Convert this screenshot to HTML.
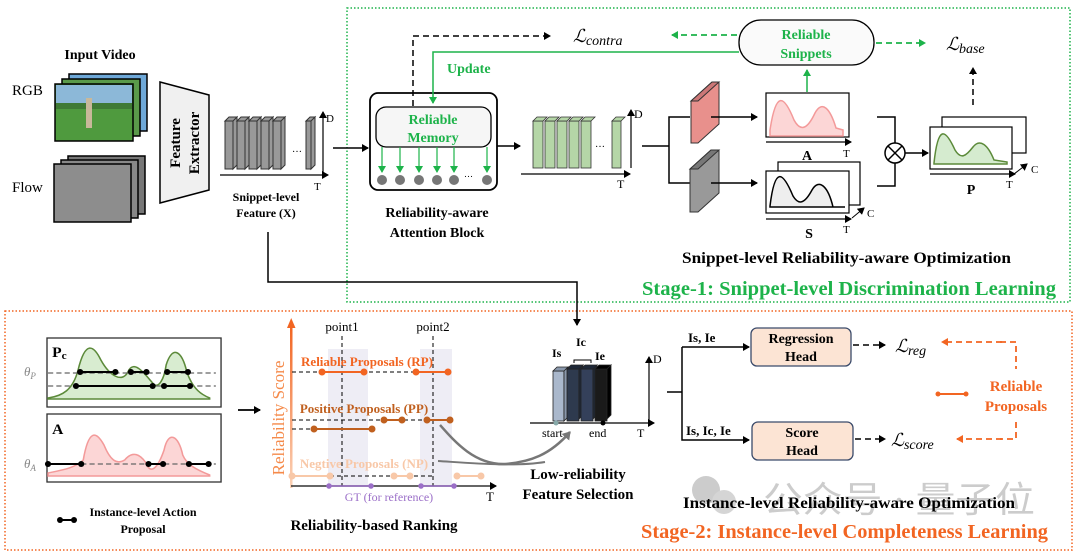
<!DOCTYPE html>
<html><head><meta charset="utf-8"><style>
body{margin:0;background:#fff}
svg{display:block}
text{font-family:"Liberation Serif",serif}
.b{font-weight:bold}
</style></head><body>
<svg width="1080" height="557" viewBox="0 0 1080 557" xmlns="http://www.w3.org/2000/svg">
<defs>
<marker id="ak" markerWidth="8" markerHeight="8" refX="6" refY="4" orient="auto" markerUnits="userSpaceOnUse"><path d="M0,0 L7,4 L0,8z" fill="#000"/></marker>
<marker id="ag" markerWidth="8" markerHeight="8" refX="6" refY="4" orient="auto" markerUnits="userSpaceOnUse"><path d="M0,0 L7,4 L0,8z" fill="#1db34a"/></marker>
<marker id="ao" markerWidth="8" markerHeight="8" refX="6" refY="4" orient="auto" markerUnits="userSpaceOnUse"><path d="M0,0 L7,4 L0,8z" fill="#f26522"/></marker>
<marker id="agr" markerWidth="10" markerHeight="10" refX="7" refY="5" orient="auto" markerUnits="userSpaceOnUse"><path d="M0,0 L8,5 L0,10z" fill="#777"/></marker>
<linearGradient id="og" x1="0" y1="1" x2="0" y2="0"><stop offset="0" stop-color="#fbd3b8"/><stop offset="1" stop-color="#f26522"/></linearGradient>
</defs>

<rect x="347" y="8" width="723" height="294" fill="none" stroke="#1db34a" stroke-width="1.5" stroke-dasharray="1.5 2"/>
<rect x="5" y="311" width="1067" height="239" fill="none" stroke="#f26522" stroke-width="1.5" stroke-dasharray="1.5 2"/>

<text x="100" y="59" class="b" font-size="14" text-anchor="middle">Input Video</text>
<text x="12" y="95" font-size="15">RGB</text>
<text x="12" y="192" font-size="15">Flow</text>
<rect x="69" y="74" width="78" height="57" fill="#6ea8d8" stroke="#000" stroke-width="1.5"/>
<rect x="62" y="79" width="78" height="57" fill="#5a9a4a" stroke="#000" stroke-width="1.5"/>
<rect x="55" y="84" width="78" height="57" fill="#4f9a3e" stroke="#000" stroke-width="1.5"/>
<rect x="56" y="85" width="76" height="18" fill="#8cb8d8"/>
<rect x="56" y="103" width="76" height="6" fill="#3f7a35"/>
<rect x="86" y="98" width="6" height="30" fill="#c8b89a"/>
<rect x="68" y="156" width="77" height="58" fill="#777" stroke="#000" stroke-width="1.5"/>
<rect x="61" y="160" width="77" height="58" fill="#888" stroke="#000" stroke-width="1.5"/>
<rect x="54" y="164" width="77" height="58" fill="#8d8d8d" stroke="#000" stroke-width="1.5"/>
<polygon points="160,82 209,95 209,190 160,203" fill="#f0f0f0" stroke="#000" stroke-width="1.5"/>
<text transform="translate(180,143) rotate(-90)" class="b" font-size="15" text-anchor="middle">Feature</text>
<text transform="translate(199,143) rotate(-90)" class="b" font-size="15" text-anchor="middle">Extractor</text>

<g fill="#999" stroke="#333" stroke-width="1" transform="translate(0,24)">
<path d="M225,97 l4,-4 h8 l-4,4z M237,93 v48 l-4,4 v-48z"/><rect x="225" y="97" width="8" height="48"/>
<path d="M237,97 l4,-4 h8 l-4,4z M249,93 v48 l-4,4 v-48z"/><rect x="237" y="97" width="8" height="48"/>
<path d="M249,97 l4,-4 h8 l-4,4z M261,93 v48 l-4,4 v-48z"/><rect x="249" y="97" width="8" height="48"/>
<path d="M261,97 l4,-4 h8 l-4,4z M273,93 v48 l-4,4 v-48z"/><rect x="261" y="97" width="8" height="48"/>
<path d="M273,97 l4,-4 h8 l-4,4z M285,93 v48 l-4,4 v-48z"/><rect x="273" y="97" width="8" height="48"/>
<path d="M306,97 l4,-4 h5 l-4,4z M315,93 v48 l-4,4 v-48z"/><rect x="306" y="97" width="5" height="48"/>
</g>
<text x="292" y="152" font-size="10">…</text>
<line x1="323" y1="172" x2="323" y2="112" stroke="#000" stroke-width="1.2" marker-end="url(#ak)"/>
<text x="326" y="122" font-size="11">D</text>
<line x1="220" y1="175" x2="328" y2="175" stroke="#000" stroke-width="1.2" marker-end="url(#ak)"/>
<text x="314" y="190" font-size="11">T</text>
<text x="266" y="201" class="b" font-size="12" text-anchor="middle">Snippet-level</text>
<text x="266" y="217" class="b" font-size="12" text-anchor="middle">Feature (X)</text>
<line x1="333" y1="148" x2="368" y2="148" stroke="#000" stroke-width="1.5" marker-end="url(#ak)"/>

<polyline points="268,232 268,282 577,282 577,325" fill="none" stroke="#000" stroke-width="1.5" marker-end="url(#ak)"/>

<rect x="370" y="93" width="127" height="97" rx="8" fill="#fff" stroke="#000" stroke-width="1.8"/>
<rect x="376" y="107" width="115" height="40" rx="10" fill="#f6f6f6" stroke="#000" stroke-width="1.3"/>
<text x="433" y="124" font-size="14" fill="#1db34a" text-anchor="middle" class="b">Reliable</text>
<text x="433" y="142" font-size="14" fill="#1db34a" text-anchor="middle" class="b">Memory</text>
<g stroke="#1db34a" stroke-width="1.2" marker-end="url(#ag)">
<line x1="382" y1="147" x2="382" y2="172"/><line x1="400" y1="147" x2="400" y2="172"/><line x1="419" y1="147" x2="419" y2="172"/><line x1="437" y1="147" x2="437" y2="172"/><line x1="454" y1="147" x2="454" y2="172"/><line x1="487" y1="147" x2="487" y2="172"/>
</g>
<g fill="#777"><circle cx="382" cy="180" r="5"/><circle cx="400" cy="180" r="5"/><circle cx="419" cy="180" r="5"/><circle cx="437" cy="180" r="5"/><circle cx="454" cy="180" r="5"/><circle cx="487" cy="180" r="5"/></g>
<text x="464" y="177" font-size="9">…</text>
<text x="437" y="217" class="b" font-size="14" text-anchor="middle">Reliability-aware</text>
<text x="437" y="237" class="b" font-size="14" text-anchor="middle">Attention Block</text>

<polyline points="413,106 413,36 550,36" fill="none" stroke="#000" stroke-width="1.5" stroke-dasharray="6 4" marker-end="url(#ak)"/>
<text x="573" y="42" font-size="18" font-style="italic">ℒ<tspan font-size="14" dy="3">contra</tspan></text>
<polyline points="739,52 433,52 433,103" fill="none" stroke="#1db34a" stroke-width="1.5" marker-end="url(#ag)"/>
<text x="447" y="73" font-size="14" fill="#1db34a" class="b">Update</text>
<rect x="739" y="20" width="135" height="45" rx="22" fill="#fafafa" stroke="#000" stroke-width="1.3"/>
<text x="806" y="39" font-size="14" fill="#1db34a" text-anchor="middle" class="b">Reliable</text>
<text x="806" y="58" font-size="14" fill="#1db34a" text-anchor="middle" class="b">Snippets</text>
<line x1="737" y1="35" x2="672" y2="35" stroke="#1db34a" stroke-width="1.8" stroke-dasharray="6 4" marker-end="url(#ag)"/>
<line x1="876" y1="43" x2="925" y2="43" stroke="#1db34a" stroke-width="1.8" stroke-dasharray="6 4" marker-end="url(#ag)"/>
<text x="946" y="50" font-size="18" font-style="italic">ℒ<tspan font-size="14" dy="3">base</tspan></text>

<line x1="497" y1="146" x2="520" y2="146" stroke="#000" stroke-width="1.5" marker-end="url(#ak)"/>
<g fill="#b5d6a7" stroke="#333" stroke-width="0.8">
<rect x="533" y="121" width="10" height="47"/><rect x="545" y="121" width="10" height="47"/><rect x="557" y="121" width="10" height="47"/><rect x="569" y="121" width="10" height="47"/><rect x="581" y="121" width="10" height="47"/><rect x="612" y="121" width="9" height="47"/>
<path d="M533,121 l4,-4 h10 l-4,4z M545,121 l4,-4 h10 l-4,4z M557,121 l4,-4 h10 l-4,4z M569,121 l4,-4 h10 l-4,4z M581,121 l4,-4 h10 l-4,4z M612,121 l4,-4 h9 l-4,4z"/>
</g>
<text x="595" y="147" font-size="10">…</text>
<line x1="631" y1="168" x2="631" y2="110" stroke="#000" stroke-width="1.2" marker-end="url(#ak)"/>
<text x="634" y="118" font-size="12">D</text>
<line x1="521" y1="174" x2="630" y2="174" stroke="#000" stroke-width="1.2" marker-end="url(#ak)"/>
<text x="617" y="188" font-size="12">T</text>

<polyline points="642,146 669,146" fill="none" stroke="#000" stroke-width="1.5"/>
<polyline points="690,117 669,117 669,183 690,183" fill="none" stroke="#000" stroke-width="1.5"/>
<polygon points="691,101 712,82 719,82 719,124 698,143 691,143" fill="#e8908c" stroke="#333"/>
<polygon points="691,101 712,82 719,82 698,101" fill="#c77" stroke="#333"/>
<polygon points="690,169 711,150 719,150 719,193 698,212 690,212" fill="#999" stroke="#333"/>
<polygon points="690,169 711,150 719,150 698,169" fill="#777" stroke="#333"/>
<line x1="711" y1="117" x2="757" y2="117" stroke="#000" stroke-width="1.5" marker-end="url(#ak)"/>
<line x1="711" y1="183" x2="757" y2="183" stroke="#000" stroke-width="1.5" marker-end="url(#ak)"/>

<rect x="766" y="93" width="83" height="44" fill="#fff" stroke="#000" stroke-width="1.2"/>
<path d="M770,130 C776,90 784,95 794,120 C801,133 808,128 815,113 C822,100 830,108 836,128 L843,130 L843,136 L770,136z" fill="#fcd6d6" stroke="#f39a9a" stroke-width="1.5"/>
<line x1="766" y1="142" x2="851" y2="142" stroke="#000" stroke-width="1.2" marker-end="url(#ak)"/>
<text x="807" y="160" class="b" font-size="14" text-anchor="middle">A</text>
<text x="843" y="157" font-size="11">T</text>
<line x1="807" y1="92" x2="807" y2="70" stroke="#1db34a" stroke-width="1.5" marker-end="url(#ag)"/>
<rect x="778" y="162" width="82" height="43" fill="#fff" stroke="#000" stroke-width="1.2"/>
<rect x="766" y="171" width="83" height="42" fill="#fff" stroke="#000" stroke-width="1.2"/>
<path d="M770,206 C775,165 783,172 793,196 C799,206 805,203 812,190 C819,178 828,186 833,207 L845,207 L770,207z" fill="#eee" stroke="#000" stroke-width="1.5"/>
<line x1="766" y1="219" x2="851" y2="219" stroke="#000" stroke-width="1.2" marker-end="url(#ak)"/>
<line x1="852" y1="218" x2="864" y2="208" stroke="#000" stroke-width="1" marker-end="url(#ak)"/>
<text x="809" y="238" class="b" font-size="14" text-anchor="middle">S</text>
<text x="843" y="233" font-size="11">T</text>
<text x="867" y="217" font-size="11">C</text>
<polyline points="877,117 895,117 895,143" fill="none" stroke="#000" stroke-width="1.5"/>
<polyline points="877,186 895,186 895,163" fill="none" stroke="#000" stroke-width="1.5"/>
<circle cx="895" cy="153" r="10" fill="#fff" stroke="#000" stroke-width="1.5"/>
<path d="M888,146 L902,160 M902,146 L888,160" stroke="#000" stroke-width="1.5"/>
<line x1="905" y1="153" x2="928" y2="153" stroke="#000" stroke-width="1.5" marker-end="url(#ak)"/>
<rect x="942" y="117" width="84" height="36" fill="#fff" stroke="#000" stroke-width="1.2"/>
<rect x="930" y="127" width="82" height="42" fill="#fff" stroke="#000" stroke-width="1.2"/>
<path d="M934,163 C938,125 945,128 955,150 C961,160 966,156 973,147 C980,138 988,145 994,160 L1007,162 L1007,164 L934,164z" fill="#d5ebcf" stroke="#5c8a3a" stroke-width="1.5"/>
<line x1="930" y1="174" x2="1015" y2="174" stroke="#000" stroke-width="1.2" marker-end="url(#ak)"/>
<line x1="1014" y1="174" x2="1027" y2="164" stroke="#000" stroke-width="1" marker-end="url(#ak)"/>
<text x="971" y="194" class="b" font-size="14" text-anchor="middle">P</text>
<text x="1006" y="188" font-size="11">T</text>
<text x="1031" y="173" font-size="11">C</text>
<line x1="973" y1="105" x2="973" y2="68" stroke="#000" stroke-width="1.5" stroke-dasharray="6 4" marker-end="url(#ak)"/>

<text x="682" y="263" class="b" font-size="16" textLength="329" lengthAdjust="spacingAndGlyphs">Snippet-level Reliability-aware Optimization</text>
<text x="642" y="295" class="b" font-size="20" fill="#1db34a" textLength="414" lengthAdjust="spacingAndGlyphs">Stage-1: Snippet-level  Discrimination  Learning</text>

<g transform="translate(47,0) scale(1.036,1) translate(-45,0)">
<rect x="45" y="338" width="168" height="69" fill="#fff" stroke="#333" stroke-width="1.3"/>
<text x="50" y="357" class="b" font-size="15">P<tspan font-size="11" dy="2">c</tspan></text>
<path d="M46,398 C60,396 70,390 75,370 C82,340 90,345 97,360 C105,375 118,385 124,370 C130,360 140,375 147,383 C152,390 158,380 160,365 C166,345 175,350 180,372 C186,390 195,395 202,398 L202,399 L46,399z" fill="#d8ecd0" stroke="#5c8a3a" stroke-width="1.5"/>
<line x1="46" y1="373" x2="208" y2="373" stroke="#666" stroke-width="1.3" stroke-dasharray="5 3"/>
<line x1="46" y1="386" x2="208" y2="386" stroke="#666" stroke-width="1.3" stroke-dasharray="5 3"/>
<g stroke="#000" stroke-width="2"><line x1="77" y1="372" x2="111" y2="372"/><line x1="126" y1="372" x2="141" y2="372"/><line x1="161" y1="372" x2="181" y2="372"/><line x1="73" y1="386" x2="147" y2="386"/><line x1="158" y1="386" x2="183" y2="386"/></g>
<g fill="#000"><circle cx="77" cy="372" r="3"/><circle cx="111" cy="372" r="3"/><circle cx="126" cy="372" r="3"/><circle cx="141" cy="372" r="3"/><circle cx="161" cy="372" r="3"/><circle cx="181" cy="372" r="3"/><circle cx="73" cy="386" r="3"/><circle cx="147" cy="386" r="3"/><circle cx="158" cy="386" r="3"/><circle cx="183" cy="386" r="3"/></g>
<rect x="45" y="414" width="168" height="68" fill="#fff" stroke="#333" stroke-width="1.3"/>
<text x="50" y="434" class="b" font-size="15">A</text>
<path d="M46,473 C60,470 72,468 80,460 C85,430 92,430 100,445 C106,460 112,465 120,460 C128,450 135,455 140,462 C145,476 152,468 158,450 C162,430 172,435 176,455 C180,465 190,470 202,475 L202,476 L46,476z" fill="#fcd6d6" stroke="#f39a9a" stroke-width="1.5"/>
<line x1="46" y1="464" x2="208" y2="464" stroke="#666" stroke-width="1.3" stroke-dasharray="5 3"/>
<g stroke="#000" stroke-width="2"><line x1="46" y1="464" x2="78" y2="464"/><line x1="143" y1="464" x2="157" y2="464"/><line x1="182" y1="464" x2="201" y2="464"/></g>
<g fill="#000"><circle cx="46" cy="464" r="3"/><circle cx="78" cy="464" r="3"/><circle cx="143" cy="464" r="3"/><circle cx="157" cy="464" r="3"/><circle cx="182" cy="464" r="3"/><circle cx="201" cy="464" r="3"/></g>
</g>
<text x="24" y="376" font-size="13" fill="#888" font-style="italic">θ<tspan font-size="9" dy="3">P</tspan></text>
<text x="24" y="468" font-size="13" fill="#888" font-style="italic">θ<tspan font-size="9" dy="3">A</tspan></text>
<line x1="60" y1="520" x2="74" y2="520" stroke="#000" stroke-width="2"/><circle cx="60" cy="520" r="3"/><circle cx="74" cy="520" r="3"/>
<text x="143" y="516" class="b" font-size="12" text-anchor="middle">Instance-level Action</text>
<text x="143" y="533" class="b" font-size="12" text-anchor="middle">Proposal</text>
<line x1="238" y1="410" x2="260" y2="410" stroke="#000" stroke-width="1.8" marker-end="url(#ak)"/>

<rect x="328" y="349" width="40" height="137" fill="#eeedf5"/>
<rect x="420" y="349" width="32" height="137" fill="#eeedf5"/>
<rect x="290" y="326" width="2.5" height="162" fill="url(#og)"/>
<path d="M287,328 L291.2,318 L295.5,328z" fill="#f26522"/>
<line x1="291" y1="486" x2="496" y2="486" stroke="#333" stroke-width="1.5" marker-end="url(#ak)"/>
<text transform="translate(284,418) rotate(-90)" font-size="17" fill="#f58a4a" text-anchor="middle">Reliability Score</text>
<text x="342" y="331" font-size="13" text-anchor="middle">point1</text>
<text x="433" y="331" font-size="13" text-anchor="middle">point2</text>
<line x1="342" y1="336" x2="342" y2="486" stroke="#000" stroke-width="1" stroke-dasharray="4 3"/>
<line x1="433" y1="336" x2="433" y2="486" stroke="#000" stroke-width="1" stroke-dasharray="4 3"/>
<text x="367" y="366" class="b" font-size="13" fill="#f26522" text-anchor="middle">Reliable Proposals (RP)</text>
<text x="364" y="413" class="b" font-size="13" fill="#c0601f" text-anchor="middle">Positive Proposals (PP)</text>
<text x="364" y="468" class="b" font-size="13" fill="#f8c8a8" text-anchor="middle">Negtive Proposals (NP)</text>
<g stroke="#000" stroke-width="1" stroke-dasharray="4 3"><line x1="292" y1="372" x2="416" y2="372"/><line x1="292" y1="420" x2="427" y2="420"/><line x1="292" y1="429" x2="312" y2="429"/><line x1="330" y1="476" x2="434" y2="476"/></g>
<g stroke="#f26522" stroke-width="2" fill="#f26522"><line x1="322" y1="372" x2="364" y2="372"/><line x1="416" y1="372" x2="448" y2="372"/><circle cx="322" cy="372" r="2.5"/><circle cx="364" cy="372" r="2.5"/><circle cx="416" cy="372" r="2.5"/><circle cx="448" cy="372" r="2.5"/></g>
<g stroke="#c0601f" stroke-width="2" fill="#c0601f"><line x1="384" y1="420" x2="402" y2="420"/><line x1="427" y1="420" x2="450" y2="420"/><line x1="314" y1="429" x2="372" y2="429"/><circle cx="384" cy="420" r="2.5"/><circle cx="402" cy="420" r="2.5"/><circle cx="427" cy="420" r="2.5"/><circle cx="450" cy="420" r="2.5"/><circle cx="314" cy="429" r="2.5"/><circle cx="372" cy="429" r="2.5"/></g>
<g stroke="#f8c8a8" stroke-width="2" fill="#f8c8a8"><line x1="292" y1="476" x2="330" y2="476"/><line x1="394" y1="476" x2="410" y2="476"/><line x1="457" y1="476" x2="481" y2="476"/><circle cx="292" cy="476" r="2.5"/><circle cx="330" cy="476" r="2.5"/><circle cx="394" cy="476" r="2.5"/><circle cx="410" cy="476" r="2.5"/><circle cx="457" cy="476" r="2.5"/><circle cx="481" cy="476" r="2.5"/></g>
<g stroke="#9b6fc8" stroke-width="1.5" fill="#9b6fc8"><line x1="329" y1="486" x2="371" y2="486"/><line x1="421" y1="486" x2="454" y2="486"/><circle cx="329" cy="486" r="2"/><circle cx="371" cy="486" r="2"/><circle cx="421" cy="486" r="2"/><circle cx="454" cy="486" r="2"/></g>
<text x="389" y="501" font-size="12" fill="#9b6fc8" text-anchor="middle">GT (for reference)</text>
<text x="486" y="501" font-size="13">T</text>
<text x="374" y="530" class="b" font-size="15" text-anchor="middle">Reliability-based Ranking</text>
<path d="M440,425 C455,442 475,465 505,464 C530,462 550,455 570,432" fill="none" stroke="#777" stroke-width="2.5" marker-end="url(#agr)"/>
<path d="M438,461 C470,463 515,467 545,462" fill="none" stroke="#777" stroke-width="2"/>

<g stroke="#222" stroke-width="0.8">
<rect x="553" y="371" width="11" height="50" fill="#aab8cc"/><path d="M553,371 l4,-4 h11 l-4,4z M564,371 l4,-4 v50 l-4,4z" fill="#8a98ac"/>
<rect x="567" y="369" width="12" height="52" fill="#2e3a4e"/><path d="M567,369 l4,-4 h12 l-4,4z M579,369 l4,-4 v50 l-4,4z" fill="#1e2838"/>
<rect x="581" y="369" width="12" height="52" fill="#34405a"/><path d="M581,369 l4,-4 h12 l-4,4z M593,369 l4,-4 v50 l-4,4z" fill="#1e2838"/>
<rect x="595" y="369" width="12" height="52" fill="#1a1a1a"/><path d="M595,369 l4,-4 h12 l-4,4z M607,369 l4,-4 v50 l-4,4z" fill="#000"/>
</g>
<text x="552" y="357" class="b" font-size="12">Is</text>
<text x="576" y="346" class="b" font-size="12">Ic</text>
<text x="595" y="360" class="b" font-size="12">Ie</text>
<polyline points="574,363 574,360 591,360 591,363" fill="none" stroke="#000"/>
<line x1="530" y1="423" x2="654" y2="423" stroke="#000" stroke-width="1.3" marker-end="url(#ak)"/>
<circle cx="556" cy="423" r="2.5" fill="#8aa"/><circle cx="603" cy="423" r="2.5" fill="#000"/>
<line x1="649" y1="421" x2="649" y2="357" stroke="#000" stroke-width="1.2" marker-end="url(#ak)"/>
<text x="653" y="363" font-size="12">D</text>
<text x="542" y="437" font-size="12">start</text>
<text x="589" y="437" font-size="12">end</text>
<text x="637" y="437" font-size="12">T</text>
<text x="578" y="479" class="b" font-size="15" text-anchor="middle">Low-reliability</text>
<text x="578" y="499" class="b" font-size="15" text-anchor="middle">Feature Selection</text>

<polyline points="667,392 682,392" fill="none" stroke="#000" stroke-width="1.5"/>
<polyline points="682,347 682,440 749,440" fill="none" stroke="#000" stroke-width="1.5" marker-end="url(#ak)"/>
<line x1="682" y1="347" x2="749" y2="347" stroke="#000" stroke-width="1.5" marker-end="url(#ak)"/>
<text x="688" y="342" class="b" font-size="13">Is, Ie</text>
<text x="686" y="435" class="b" font-size="13">Is, Ic, Ie</text>
<rect x="751" y="328" width="100" height="38" rx="6" fill="#fce4d4" stroke="#3a4a6a" stroke-width="1.3"/>
<text x="801" y="343" class="b" font-size="14" text-anchor="middle">Regression</text>
<text x="801" y="361" class="b" font-size="14" text-anchor="middle">Head</text>
<rect x="752" y="422" width="101" height="38" rx="6" fill="#fce4d4" stroke="#3a4a6a" stroke-width="1.3"/>
<text x="802" y="437" class="b" font-size="14" text-anchor="middle">Score</text>
<text x="802" y="455" class="b" font-size="14" text-anchor="middle">Head</text>
<line x1="853" y1="345" x2="885" y2="345" stroke="#000" stroke-width="1.5" stroke-dasharray="6 4" marker-end="url(#ak)"/>
<line x1="855" y1="439" x2="885" y2="439" stroke="#000" stroke-width="1.5" stroke-dasharray="6 4" marker-end="url(#ak)"/>
<text x="895" y="352" font-size="18" font-style="italic">ℒ<tspan font-size="14" dy="3">reg</tspan></text>
<text x="891" y="446" font-size="18" font-style="italic">ℒ<tspan font-size="14" dy="3">score</tspan></text>
<polyline points="1000,342 1016,342 1016,369" fill="none" stroke="#f26522" stroke-width="1.8" stroke-dasharray="6 4"/>
<line x1="1002" y1="342" x2="942" y2="342" stroke="#f26522" stroke-width="1.8" stroke-dasharray="6 4" marker-end="url(#ao)"/>
<polyline points="1016,422 1016,439 1000,439" fill="none" stroke="#f26522" stroke-width="1.8" stroke-dasharray="6 4"/>
<line x1="1002" y1="439" x2="957" y2="439" stroke="#f26522" stroke-width="1.8" stroke-dasharray="6 4" marker-end="url(#ao)"/>
<line x1="938" y1="394" x2="966" y2="394" stroke="#f26522" stroke-width="2"/><circle cx="938" cy="394" r="2.5" fill="#f26522"/><circle cx="966" cy="394" r="2.5" fill="#f26522"/>
<text x="1016" y="391" class="b" font-size="15" fill="#f26522" text-anchor="middle">Reliable</text>
<text x="1016" y="411" class="b" font-size="15" fill="#f26522" text-anchor="middle">Proposals</text>
<circle cx="706" cy="490" r="14" fill="#ccc"/><circle cx="724" cy="502" r="12" fill="#d5d5d5"/>
<text x="763" y="512" font-size="36" fill="#ccc" textLength="272" lengthAdjust="spacingAndGlyphs" font-family="'Noto Sans CJK SC',sans-serif">公众号 · 量子位</text>
<text x="683" y="508" class="b" font-size="16" textLength="332" lengthAdjust="spacingAndGlyphs">Instance-level Reliability-aware Optimization</text>
<text x="641" y="538" class="b" font-size="20" fill="#f26522" textLength="407" lengthAdjust="spacingAndGlyphs">Stage-2: Instance-level  Completeness  Learning</text>
</svg>
</body></html>
